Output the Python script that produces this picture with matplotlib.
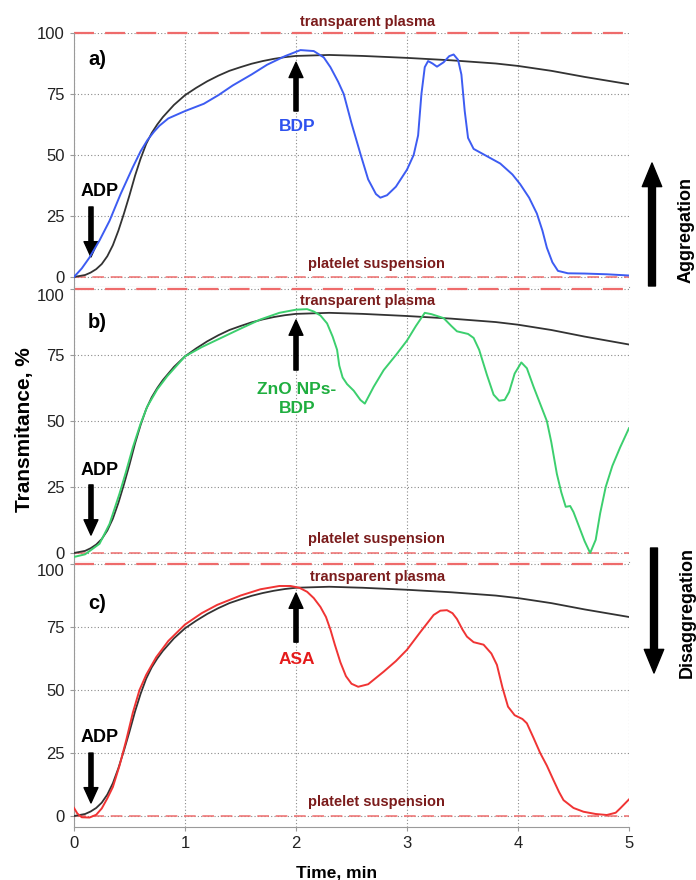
import matplotlib
matplotlib.use("Agg")
import matplotlib.pyplot as plt

# reference (ADP only) curve, same in all three panels
t_ref = [0.0, 0.1, 0.15, 0.2, 0.25, 0.3, 0.35, 0.4, 0.45, 0.5, 0.55, 0.6, 0.65, 0.7,
         0.75, 0.8, 0.9, 1.0, 1.1, 1.2, 1.3, 1.4, 1.5, 1.6, 1.7, 1.8, 1.9,
         2.0, 2.3, 2.6, 3.0, 3.4, 3.8, 4.0, 4.3, 4.6, 5.0]
y_ref = [0, 0.8, 1.8, 3.2, 5.3, 8.5, 13, 19, 26, 33.5, 41.5, 48.5, 54.5, 59,
         62.5, 65.5, 70.5, 74.5, 77.5, 80.2, 82.5, 84.5, 86, 87.4, 88.5, 89.4, 90.1,
         90.6, 91, 90.6, 89.8, 88.8, 87.5, 86.5, 84.5, 82, 79]

# a) BDP
t_bdp = [0.0, 0.07, 0.14, 0.23, 0.32, 0.42, 0.53, 0.6, 0.66, 0.72, 0.77, 0.85, 1.0,
         1.17, 1.3, 1.43, 1.6, 1.74, 1.9, 2.04, 2.16, 2.25, 2.31, 2.38, 2.43, 2.5,
         2.58, 2.65, 2.72, 2.76, 2.82, 2.9, 3.0, 3.06, 3.1, 3.13, 3.16, 3.19, 3.23,
         3.27, 3.33, 3.38, 3.42, 3.46, 3.49, 3.52, 3.55, 3.6, 3.68, 3.84, 3.95, 4.02,
         4.1, 4.17, 4.22, 4.26, 4.31, 4.36, 4.45, 4.6, 4.8, 5.0]
y_bdp = [0, 3.5, 8, 15, 23, 34, 45, 51.5, 56, 59.5, 62, 65, 68,
         71, 74.5, 78.5, 83, 87, 90.5, 93, 92.6, 90, 86, 80, 75, 63,
         50.5, 40, 34, 32.5, 33.5, 37, 44, 50, 58, 75, 86, 88.5, 87.5,
         86.2, 88, 90.5, 91.2, 89, 83, 68, 57, 52.5, 50.5, 46.5, 42, 38,
         32.5, 26, 19, 12, 6, 2.5, 1.5, 1.4, 1.1, 0.6]

# b) ZnO NPs-BDP
t_zno = [0.0, 0.1, 0.23, 0.32, 0.41, 0.47, 0.53, 0.6, 0.66, 0.75, 0.84, 1.0, 1.15,
         1.29, 1.5, 1.68, 1.85, 2.0, 2.1, 2.16, 2.22, 2.28, 2.33, 2.37, 2.39, 2.42,
         2.46, 2.52, 2.58, 2.62, 2.7, 2.79, 2.9, 3.0, 3.08, 3.16, 3.22, 3.33, 3.4,
         3.45, 3.55, 3.6, 3.65, 3.72, 3.78, 3.83, 3.88, 3.92, 3.97, 4.03, 4.08, 4.14,
         4.2, 4.26, 4.3, 4.35, 4.39, 4.43, 4.47, 4.5, 4.55, 4.6, 4.65, 4.7, 4.74,
         4.79, 4.85, 4.92, 5.0]
y_zno = [-1.5, -0.5, 3.5, 11, 22.5, 31, 40, 49, 55.5, 62, 67, 74.5, 78,
         80.8, 85, 88.5, 91, 92.2, 92.4, 91.5, 90, 87, 82, 77, 71, 66.5,
         64, 61.5, 58, 56.6, 63, 69.3, 75, 80.5, 86, 91, 90.5, 89, 86,
         84, 83, 81.5, 77, 67.5, 60, 57.7, 58, 61, 68, 72.2, 70, 63,
         56.5, 50, 42, 30, 23, 17.5, 17.8, 15.5, 10, 4.5, 0, 5, 15,
         25, 33, 40, 47.3]

# c) ASA
t_asa = [0.0, 0.03, 0.07, 0.14, 0.2, 0.25, 0.3, 0.35, 0.41, 0.47, 0.53, 0.59, 0.65,
         0.74, 0.85, 1.0, 1.15, 1.29, 1.5, 1.68, 1.85, 1.95, 2.03, 2.1, 2.16, 2.22,
         2.27, 2.31, 2.35, 2.4, 2.45, 2.5, 2.56, 2.65, 2.79, 2.9, 3.0, 3.12, 3.24,
         3.3, 3.36, 3.41, 3.45, 3.5, 3.54, 3.6, 3.69, 3.76, 3.81, 3.86, 3.91, 3.97,
         4.04, 4.08, 4.14, 4.2, 4.26, 4.32, 4.37, 4.41, 4.5, 4.59, 4.7, 4.8, 4.88,
         4.92, 4.96, 5.0]
y_asa = [3.2, 1, -0.5, -0.6, 0.5, 3, 7, 11.5, 20, 30, 41, 50, 56,
         63, 69.5, 76, 80.5, 83.8, 87.5, 90, 91.3, 91.3, 90.6, 89, 86.5, 83,
         79, 74, 68, 61, 55.5, 52.5, 51.3, 52.3, 57.3, 61.5, 66, 73, 79.8,
         81.5, 81.7, 80.5, 78.2, 74, 71.2, 69, 68, 64.5, 60, 51, 43.4, 40,
         38.5, 36.8, 31, 25, 20, 14.2, 9.5, 6.3, 3.2, 1.7, 0.8, 0.4, 1.3,
         3, 4.8, 6.6]

y_ticks = [0, 25, 50, 75, 100]
x_ticks = [0, 1, 2, 3, 4, 5]

DARKRED = "#7b1c1c"
DASHRED = "#ee6b6b"
plt.rcParams["font.family"] = ["Liberation Sans", "DejaVu Sans"]

fig = plt.figure(figsize=(6.96, 8.8), dpi=100)
left, width = 74 / 696, 555 / 696

panels = [
    dict(pos=(0.6739, 0.2886), ylim=(-4.1, 100), t=t_bdp, y=y_bdp, color="#3d5cf2",
         tag="a)", tag_y=89, drug="BDP", drug_color="#2f52ee", drug_y=61.5,
         plasma=(2.04, 104.6), platelet=(2.11, 5.3), adp_y=35, adp_arrow=(28.7, 8.2),
         up_arrow=(68, 88)),
    dict(pos=(0.3614, 0.3125), ylim=(-3.4, 100.8), t=t_zno, y=y_zno, color="#3ccf6e",
         tag="b)", tag_y=87.5, drug="ZnO NPs-\nBDP", drug_color="#1fae3f", drug_y=58.5,
         plasma=(2.04, 95.5), platelet=(2.11, 5.3), adp_y=31.4, adp_arrow=(25.8, 6.8),
         up_arrow=(69.3, 88.3)),
    dict(pos=(0.0602, 0.3011), ylim=(-4.37, 100.8), t=t_asa, y=y_asa, color="#f03434",
         tag="c)", tag_y=84.5, drug="ASA", drug_color="#e51b1b", drug_y=62,
         plasma=(2.13, 94.8), platelet=(2.11, 5.5), adp_y=31, adp_arrow=(25, 5.2),
         up_arrow=(69, 88.5)),
]

for i, p in enumerate(panels):
    ax = fig.add_axes([left, p["pos"][0], width, p["pos"][1]])
    ax.set_xlim(0, 5)
    ax.set_ylim(*p["ylim"])
    ax.set_yticks(y_ticks)
    ax.set_xticks(x_ticks)
    ax.grid(True, linestyle=(0, (1, 2)), color="#8a8a8a", linewidth=0.8)
    ax.set_axisbelow(True)
    for s in ["top", "right"]:
        ax.spines[s].set_visible(False)
    for s in ["left", "bottom"]:
        ax.spines[s].set_color("#9a9a9a")
    ax.tick_params(colors="#222222", length=3, color="#9a9a9a", labelsize=12)
    if i < 2:
        ax.tick_params(axis="x", labelbottom=False, length=0)
    if i > 0:
        # keep the top label clear of the panel above
        ax.get_yticklabels()[-1].set_va("top")

    # levels: transparent plasma (100) and platelet suspension (0)
    ax.axhline(100, color=DASHRED, linewidth=1.6, dashes=(9, 5), clip_on=False, zorder=2)
    ax.axhline(0, color=DASHRED, linewidth=1.2, dashes=(7, 4), alpha=0.9, zorder=2)

    ax.plot(t_ref, y_ref, color="#333333", linewidth=1.3, zorder=3)
    ax.plot(p["t"], p["y"], color=p["color"], linewidth=1.4, zorder=4)

    ax.text(p["plasma"][0], p["plasma"][1], "transparent plasma", color=DARKRED,
            fontsize=10.5, fontweight="bold", ha="left", va="center")
    ax.text(p["platelet"][0], p["platelet"][1], "platelet suspension", color=DARKRED,
            fontsize=10.5, fontweight="bold", ha="left", va="center")
    ax.text(0.21, p["tag_y"], p["tag"], fontsize=14.5, fontweight="bold",
            ha="center", va="center")

    # ADP addition
    ax.text(0.234, p["adp_y"], "ADP", fontsize=13, fontweight="bold",
            ha="center", va="center")
    ax.annotate("", xy=(0.153, p["adp_arrow"][1]), xytext=(0.153, p["adp_arrow"][0]),
                arrowprops=dict(facecolor="black", edgecolor="black", width=3,
                                headwidth=10, headlength=11, shrink=0))
    # drug addition
    ax.annotate("", xy=(2.0, p["up_arrow"][1]), xytext=(2.0, p["up_arrow"][0]),
                arrowprops=dict(facecolor="black", edgecolor="black", width=3,
                                headwidth=10, headlength=11, shrink=0), zorder=5)
    ax.text(2.01, p["drug_y"], p["drug"], color=p["drug_color"], fontsize=12.5,
            fontweight="bold", ha="center", va="center", linespacing=1.35,
            multialignment="center")

fig.text(337 / 696, 7 / 880, "Time, min", fontsize=12.5, fontweight="bold",
         ha="center", va="center")
fig.text(25 / 696, 450 / 880, "Transmitance, %", fontsize=15, fontweight="bold",
         rotation=90, ha="center", va="center")

# aggregation / disaggregation direction arrows
fig.add_artist(plt.Annotation("", xy=(652, 880 - 163), xytext=(652, 880 - 286),
                              xycoords="figure pixels", textcoords="figure pixels",
                              arrowprops=dict(facecolor="black", edgecolor="black",
                                              width=5, headwidth=14, headlength=17,
                                              shrink=0)))
fig.text(686 / 696, (880 - 230) / 880, "Aggregation", fontsize=13, fontweight="bold",
         rotation=90, ha="center", va="center")
fig.add_artist(plt.Annotation("", xy=(654, 880 - 673), xytext=(654, 880 - 548),
                              xycoords="figure pixels", textcoords="figure pixels",
                              arrowprops=dict(facecolor="black", edgecolor="black",
                                              width=5, headwidth=14, headlength=17,
                                              shrink=0)))
fig.text(687 / 696, (880 - 613) / 880, "Disaggregation", fontsize=13, fontweight="bold",
         rotation=90, ha="center", va="center")

fig.savefig("out.png", dpi=100)
